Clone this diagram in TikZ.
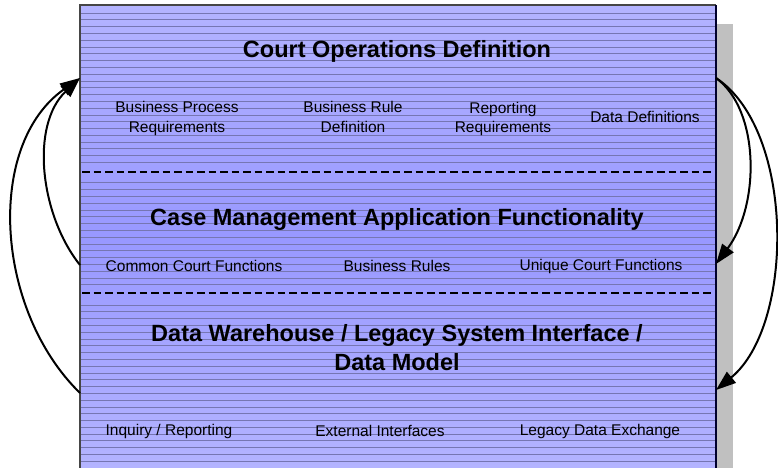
\documentclass[tikz,border=0pt]{standalone}
\usepackage{fontspec}
\setmainfont{Liberation Sans}
\usetikzlibrary{arrows.meta}
\definecolor{bandlight}{RGB}{180,180,255}
\definecolor{banddark}{RGB}{152,152,255}
\definecolor{stripe}{RGB}{118,118,178}
\definecolor{shadowgray}{RGB}{192,192,192}
\tikzset{
  heading/.style={font=\fontsize{23.5}{29}\selectfont\bfseries, align=center, inner sep=0pt},
  item/.style={font=\fontsize{15.5}{19.5}\selectfont, align=center, inner sep=0pt},
  loop/.style={line width=2pt, -{Triangle[length=20pt,width=14pt]}},
  divider/.style={dash pattern=on 7.5pt off 4pt, line width=1.5pt},
  rule/.style={stripe, line width=1pt},
}
\begin{document}
\begin{tikzpicture}[x=1pt,y=-1pt]
\useasboundingbox (0,0) rectangle (778,467);
% drop shadow
\fill[shadowgray] (716,24) rectangle (733,470);
% panel body: flat bands, lighter at the top and bottom, darker in the middle
\foreach \y in {5,7,...,467}{
  \pgfmathtruncatemacro{\pct}{min(100,abs(\y+1-237)/232*100)}
  \fill[bandlight!\pct!banddark] (80,\y) rectangle (716,\y+2.6);
}
% horizontal ruling, snapped to whole rows
\foreach \k in {0,...,22,25,26,...,40,43,44,...,67}{
  \pgfmathsetmacro{\ry}{round(12.7+6.79*\k)+0.5}
  \draw[rule] (80,\ry) -- (716,\ry);
}
\draw[divider] (82,172) -- (714,172);
\draw[divider] (82,293) -- (714,293);
\draw[gray!55!black, line width=1.2pt] (80,470) -- (80,5) -- (716,5);
\draw[black!70!blue!60!black, line width=1.2pt] (716,5) -- (716,470);

% layer 1
\node[heading] (cod) at (397,51) {Court Operations Definition};
\node[item] (bpr) at (177,118.5) {Business Process\\Requirements};
\node[item] (brd) at (353,117) {Business Rule\\Definition};
\node[item] (rr) at (503,119) {Reporting\\Requirements};
\node[item] (dd) at (645,117) {Data Definitions};
% layer 2
\node[heading] (cma) at (397,219.5) {Case Management Application Functionality};
\node[item] (ccf) at (194,266) {Common Court Functions};
\node[item] (br) at (397,266) {Business Rules};
\node[item] (ucf) at (601,266) {Unique Court Functions};
% layer 3
\node[heading] (dw) at (397,348) {Data Warehouse / Legacy System Interface /\\Data Model};
\node[item] (ir) at (169,431) {Inquiry / Reporting};
\node[item] (ei) at (380,431) {External Interfaces};
\node[item] (lde) at (600,431) {Legacy Data Exchange};

% feedback and flow-down connectors on the panel edges
\coordinate (lTop) at (80,78);
\coordinate (lMid) at (80,265);
\coordinate (lBot) at (80,393);
\coordinate (rTop) at (716,78);
\coordinate (rMid) at (716,264);
\coordinate (rBot) at (716,390);
\draw[loop] (lMid) .. controls (40,215) and (30,125) .. (lTop);
\draw[loop] (lBot) .. controls (-5,310) and (-15,145) .. (lTop);
\draw[loop] (rTop) .. controls (760,110) and (760,205) .. (rMid);
\draw[loop] (rTop) .. controls (795,130) and (795,325) .. (rBot);
\end{tikzpicture}
\end{document}
